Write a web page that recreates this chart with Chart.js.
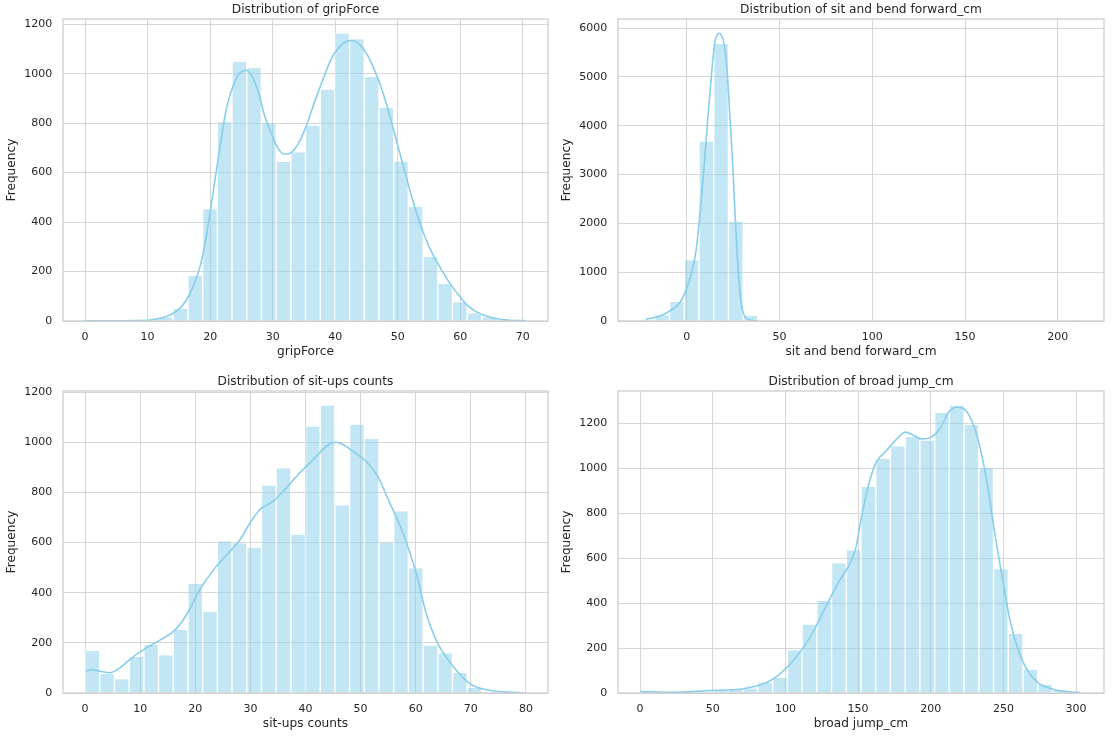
<!DOCTYPE html>
<html>
<head>
<meta charset="utf-8">
<script src="https://cdn.jsdelivr.net/npm/chart.js@4.4.1/dist/chart.umd.min.js"></script>
<style>
html,body{margin:0;padding:0;background:#ffffff;width:1111px;height:740px;overflow:hidden;position:relative}
canvas{position:absolute}
</style>
</head>
<body>
<canvas id="c1"></canvas>
<canvas id="c2"></canvas>
<canvas id="c3"></canvas>
<canvas id="c4"></canvas>
<script>
// ---------- DATA ----------
// gripForce
const gripBinStart = 0;
const gripBinWidth = 2.35;
const gripCounts = [2, 0, 1, 1, 4, 14, 49, 183, 452, 804, 1048, 1024, 800, 644, 682, 791, 936, 1163, 1139, 987, 861, 645, 461, 259, 151, 76, 31, 15, 5, 2];
const gripKdeX = [0, 5, 8, 10.4, 12.0, 13.6, 15.2, 16.2, 17.3, 18.4, 19.2, 20.0, 20.8, 21.6, 22.6, 23.7, 24.8, 25.7, 26.6, 27.7, 28.7, 29.8, 30.9, 31.9, 33.0, 34.1, 35.4, 36.7, 38.1, 39.4, 40.7, 41.8, 42.7, 43.7, 45.0, 46.3, 47.6, 49.0, 50.3, 51.6, 53.0, 54.3, 55.6, 57.0, 58.3, 59.9, 61.2, 62.5, 65.2, 67.5, 70.5];
const gripKdeY = [1, 1, 2, 4, 11, 24, 52, 85, 140, 221, 316, 438, 574, 709, 858, 953, 1004, 1014, 994, 926, 831, 757, 696, 675, 682, 716, 791, 886, 980, 1062, 1109, 1130, 1134, 1123, 1082, 1014, 926, 804, 682, 560, 438, 343, 269, 207, 153, 100, 62, 38, 12, 4, 1];
const gripXTicks = [0, 10, 20, 30, 40, 50, 60, 70];
const gripYTicks = [0, 200, 400, 600, 800, 1000, 1200];

// sit and bend forward_cm
const bendBinStart = -25.2;
const bendBinWidth = 7.94;
const bendCounts = [30, 116, 388, 1246, 3677, 5672, 2036, 102, 0, 0, 0, 0, 0, 0, 0, 0, 0, 0, 0, 0, 0, 0, 0, 0, 0, 0, 0, 0, 0, 1];
const bendKdeX = [-22.1, -14.6, -9.2, -3.8, -0.2, 2.5, 4.8, 6.1, 7.8, 9.6, 11.4, 13.2, 15.0, 16.3, 17.4, 18.6, 20.4, 21.7, 23.1, 24.6, 25.8, 27.1, 28.5, 29.9, 31.7, 34.8, 38.4];
const bendKdeY = [35, 103, 205, 375, 648, 988, 1397, 1805, 2486, 3303, 4189, 5006, 5687, 5857, 5891, 5857, 5619, 5142, 4257, 3303, 2350, 1397, 648, 239, 69, 14, 0];
const bendXTicks = [0, 50, 100, 150, 200];
const bendYTicks = [0, 1000, 2000, 3000, 4000, 5000, 6000];

// sit-ups counts
const situpBinStart = 0;
const situpBinWidth = 80 / 30;
const situpCounts = [167, 77, 55, 144, 191, 151, 252, 436, 323, 605, 597, 579, 827, 896, 632, 1063, 1147, 749, 1071, 1013, 599, 725, 497, 189, 159, 81, 20, 5, 2, 1];
const situpKdeX = [0.2, 1.2, 2.7, 4.5, 6.3, 8.2, 10.6, 13.6, 16.3, 18.4, 20.8, 23.3, 25.7, 28.1, 29.9, 31.7, 34.1, 36.5, 38.9, 41.4, 43.8, 45.3, 46.8, 48.6, 51.0, 53.1, 55.3, 57.7, 60.1, 61.9, 63.7, 65.5, 67.9, 70.3, 73.4, 76.4, 79.4];
const situpKdeY = [87, 93, 87, 81, 100, 135, 173, 211, 251, 311, 411, 491, 551, 611, 677, 731, 764, 817, 877, 931, 984, 1000, 991, 964, 924, 864, 757, 637, 477, 317, 211, 144, 77, 31, 11, 4, 1];
const situpXTicks = [0, 10, 20, 30, 40, 50, 60, 70, 80];
const situpYTicks = [0, 200, 400, 600, 800, 1000, 1200];

// broad jump_cm
const jumpBinStart = 0;
const jumpBinWidth = 304 / 30;
const jumpCounts = [6, 1, 1, 2, 4, 10, 14, 20, 47, 67, 190, 305, 409, 577, 635, 916, 1041, 1097, 1140, 1123, 1245, 1279, 1193, 1001, 550, 262, 104, 37, 12, 3];
const jumpKdeX = [0, 22.5, 51, 70, 79.4, 88.9, 98.4, 107.9, 117.4, 126.9, 136.4, 143.5, 148.2, 153, 157.7, 162.4, 169.6, 176.7, 182.6, 188.5, 193.3, 200.4, 206.3, 212.3, 218.2, 221.7, 226.5, 232.4, 238.3, 244.3, 249.0, 254.9, 260.9, 266.8, 273.9, 283.4, 292.9, 302.4];
const jumpKdeY = [7, 3, 12, 18, 30, 52, 97, 164, 253, 372, 491, 565, 639, 803, 937, 1026, 1078, 1130, 1160, 1145, 1130, 1138, 1175, 1249, 1271, 1267, 1234, 1130, 952, 699, 520, 312, 178, 97, 45, 18, 6, 3];
const jumpXTicks = [0, 50, 100, 150, 200, 250, 300];
const jumpYTicks = [0, 200, 400, 600, 800, 1000, 1200];

// ---------- STYLE / LAYOUT ----------
const FONT = 'DejaVu Sans';
const TEXT = '#262626';
const GRID = '#d6d6d6';
const SPINE = '#cccccc';
const BAR_FILL = 'rgba(135,206,235,0.5)';
const LINE = '#87CEEB';
const Y_AXIS_W = 63, PAD_TOP = 20, PAD_RIGHT = 6, X_AXIS_H = 48;

const panels = [
  {id:'c1', title:'Distribution of gripForce', xLabel:'gripForce',
   start:gripBinStart, bw:gripBinWidth, counts:gripCounts, kx:gripKdeX, ky:gripKdeY,
   xt:gripXTicks, yt:gripYTicks, box:{l:63, r:548, t:19, b:321}},
  {id:'c2', title:'Distribution of sit and bend forward_cm', xLabel:'sit and bend forward_cm',
   start:bendBinStart, bw:bendBinWidth, counts:bendCounts, kx:bendKdeX, ky:bendKdeY,
   xt:bendXTicks, yt:bendYTicks, box:{l:618, r:1104, t:19, b:321}},
  {id:'c3', title:'Distribution of sit-ups counts', xLabel:'sit-ups counts',
   start:situpBinStart, bw:situpBinWidth, counts:situpCounts, kx:situpKdeX, ky:situpKdeY,
   xt:situpXTicks, yt:situpYTicks, box:{l:63, r:548, t:391, b:693}},
  {id:'c4', title:'Distribution of broad jump_cm', xLabel:'broad jump_cm',
   start:jumpBinStart, bw:jumpBinWidth, counts:jumpCounts, kx:jumpKdeX, ky:jumpKdeY,
   xt:jumpXTicks, yt:jumpYTicks, box:{l:618, r:1104, t:391, b:693}}
];

const framePlugin = {
  id: 'frame',
  afterDatasetsDraw(chart) {
    const a = chart.chartArea, ctx = chart.ctx;
    ctx.save();
    ctx.strokeStyle = SPINE;
    ctx.lineWidth = 1.25;
    ctx.strokeRect(a.left, a.top, a.right - a.left, a.bottom - a.top);
    ctx.restore();
  },
  afterDraw(chart, args, opts) {
    const a = chart.chartArea, ctx = chart.ctx;
    ctx.save();
    ctx.fillStyle = TEXT;
    ctx.font = '12.2px "' + FONT + '"';
    ctx.textAlign = 'center';
    ctx.textBaseline = 'alphabetic';
    ctx.fillText(opts.text, (a.left + a.right) / 2, a.top - 6);
    ctx.restore();
  }
};

function build(p) {
  const cv = document.getElementById(p.id);
  const w = p.box.r - p.box.l + Y_AXIS_W + PAD_RIGHT;
  const h = p.box.b - p.box.t + PAD_TOP + X_AXIS_H;
  cv.width = w; cv.height = h;
  cv.style.width = w + 'px'; cv.style.height = h + 'px';
  cv.style.left = (p.box.l - Y_AXIS_W) + 'px';
  cv.style.top = (p.box.t - PAD_TOP) + 'px';

  const bars = p.counts.map((c, i) => ({x: p.start + (i + 0.5) * p.bw, y: c}));
  const kde = p.kx.map((x, i) => ({x: x, y: p.ky[i]}));
  const end = p.start + p.counts.length * p.bw;
  const span = end - p.start;
  const xmin = p.start - 0.05 * span, xmax = end + 0.05 * span;
  const ymax = 1.05 * Math.max(...p.counts, ...p.ky);

  new Chart(cv, {
    type: 'bar',
    data: {
      datasets: [
        {type:'line', data:kde, borderColor:LINE, borderWidth:1.6, pointRadius:0,
         cubicInterpolationMode:'monotone', fill:false, order:0},
        {type:'bar', data:bars, backgroundColor:BAR_FILL, borderColor:'#ffffff',
         borderWidth:{left:0.7, right:0.7, top:0, bottom:0}, borderSkipped:'start',
         barPercentage:1, categoryPercentage:1, inflateAmount:0, order:1}
      ]
    },
    options: {
      responsive:false, animation:false, devicePixelRatio:1,
      layout:{padding:{left:0, right:PAD_RIGHT, top:PAD_TOP, bottom:0}},
      plugins:{legend:{display:false}, tooltip:{enabled:false}, frame:{text:p.title}},
      scales:{
        x:{type:'linear', min:xmin, max:xmax, offset:false,
           grid:{color:GRID, lineWidth:1, drawTicks:false, offset:false},
           border:{display:false},
           ticks:{autoSkip:false, maxRotation:0, padding:9.3, color:TEXT,
                  font:{family:FONT, size:11}, callback:(v) => String(v)},
           afterBuildTicks:(s) => { s.ticks = p.xt.map(v => ({value:v})); },
           afterFit:(s) => { s.height = X_AXIS_H; },
           title:{display:true, text:p.xLabel, color:TEXT, font:{family:FONT, size:12.2},
                  padding:{top:0, bottom:9.9}}},
        y:{type:'linear', min:0, max:ymax,
           grid:{color:GRID, lineWidth:1, drawTicks:false, offset:false},
           border:{display:false},
           ticks:{padding:10.7, color:TEXT, font:{family:FONT, size:11}, callback:(v) => String(v)},
           afterBuildTicks:(s) => { s.ticks = p.yt.map(v => ({value:v})); },
           afterFit:(s) => { s.width = Y_AXIS_W; },
           title:{display:true, text:'Frequency', color:TEXT, font:{family:FONT, size:12.2},
                  padding:{top:4.9, bottom:0}}}
      }
    },
    plugins:[framePlugin]
  });
}

Chart.defaults.font.family = FONT;
panels.forEach(build);
</script>
</body>
</html>
